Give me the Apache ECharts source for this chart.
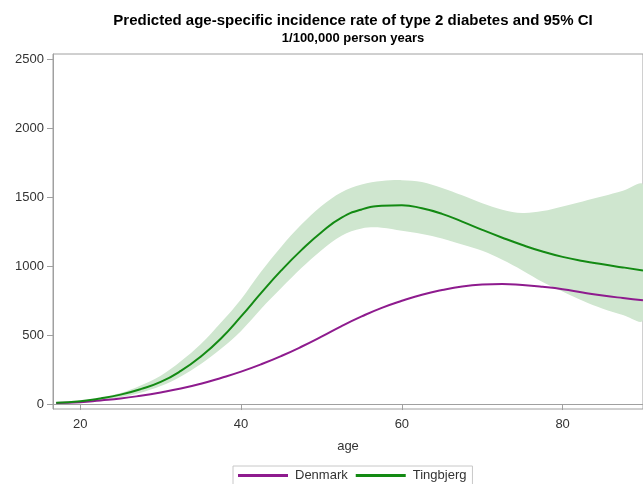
<!DOCTYPE html>
<html><head><meta charset="utf-8">
<script src="https://cdn.jsdelivr.net/npm/echarts@6/dist/echarts.min.js"></script>
<style>html,body{margin:0;padding:0;background:#fff}#c{width:643px;height:484px}</style>
</head><body><div id="c"></div>
<script>
const ages       = [17, 20, 22.5, 25, 27.5, 30, 32.5, 35, 37.5, 40, 42.5, 45, 47.5, 50, 52.5, 55, 57.5, 60, 62.5, 65, 67.5, 70, 72.5, 75, 77.5, 80, 82.5, 85, 87.5, 90];
const tingbjerg  = [10, 20, 40, 68, 108, 160, 240, 345, 475, 635, 805, 968, 1115, 1245, 1350, 1410, 1436, 1440, 1418, 1378, 1322, 1262, 1205, 1152, 1105, 1066, 1036, 1012, 990, 968];
const ciUpper    = [12, 24, 48, 80, 135, 205, 310, 435, 590, 760, 960, 1140, 1300, 1435, 1535, 1590, 1615, 1622, 1608, 1565, 1512, 1455, 1408, 1384, 1398, 1432, 1468, 1505, 1545, 1585];
const ciLower    = [8, 15, 30, 50, 82, 130, 200, 290, 400, 530, 690, 840, 985, 1115, 1220, 1272, 1278, 1255, 1232, 1200, 1155, 1110, 1045, 968, 885, 815, 748, 690, 645, 610];
const denmark    = [8, 13, 26, 40, 60, 84, 112, 147, 189, 235, 288, 348, 415, 488, 565, 635, 697, 748, 792, 826, 852, 866, 870, 862, 849, 832, 808, 786, 768, 752];
const yTicks     = [0, 500, 1000, 1500, 2000, 2500];
const xTicks     = [20, 40, 60, 80];

const pair = arr => ages.map((a, i) => [a, arr[i]]);
const FONT = 'Liberation Sans, Arial, sans-serif';
const AXIS = '#a0a0a0';

const chart = echarts.init(document.getElementById('c'), null, {renderer: 'canvas'});
chart.setOption({
  animation: false,
  backgroundColor: '#fff',
  title: [
    {text: 'Predicted age-specific incidence rate of type 2 diabetes and 95% CI', left: 353, top: 13, padding: 0, textAlign: 'center',
     textStyle: {fontFamily: FONT, fontSize: 15, fontWeight: 'bold', color: '#000'}},
    {text: '1/100,000 person years', left: 353, top: 32, padding: 0, textAlign: 'center',
     textStyle: {fontFamily: FONT, fontSize: 13, fontWeight: 'bold', color: '#000'}}
  ],
  legend: {
    data: ['Denmark', 'Tingbjerg'], left: 233, top: 466, orient: 'horizontal',
    borderColor: '#c8c8c8', borderWidth: 1, padding: [3, 6, 3, 5],
    icon: 'rect', itemWidth: 50, itemHeight: 3, itemGap: 8,
    textStyle: {fontFamily: FONT, fontSize: 13, color: '#333', padding: [0, 0, 0, 2]}
  },
  grid: {left: 53, top: 54, width: 600, height: 355, show: true, borderColor: AXIS, borderWidth: 1, containLabel: false},
  xAxis: {
    type: 'value', min: 16.6, max: 90,
    name: 'age', nameLocation: 'middle', nameGap: 31,
    nameTextStyle: {fontFamily: FONT, fontSize: 13, color: '#333'},
    axisLine: {show: true, lineStyle: {color: AXIS}},
    axisTick: {show: true, length: 6, lineStyle: {color: AXIS}, customValues: xTicks},
    axisLabel: {fontFamily: FONT, fontSize: 13, color: '#333', margin: 9, customValues: xTicks, formatter: v => String(v)},
    splitLine: {show: false}
  },
  yAxis: {
    type: 'value', min: -36, max: 2536,
    axisLine: {show: true, lineStyle: {color: AXIS}},
    axisTick: {show: true, length: 6, lineStyle: {color: AXIS}, customValues: yTicks},
    axisLabel: {fontFamily: FONT, fontSize: 13, color: '#333', margin: 9, customValues: yTicks, formatter: v => String(v)},
    splitLine: {show: false}
  },
  series: [
    {name: 'ci', type: 'custom', silent: true, z: 1, clip: true,
     data: ages.map((a, i) => [a, ciLower[i], ciUpper[i]]),
     encode: {x: 0, y: [1, 2]},
     renderItem: (params, api) => {
       if (params.dataIndex !== 0) return null;
       const top = ages.map((a, i) => api.coord([a, ciUpper[i]]));
       const bot = ages.map((a, i) => api.coord([a, ciLower[i]])).reverse();
       return {type: 'polygon', shape: {points: top.concat(bot), smooth: 0.35}, style: {fill: '#cfe6cf', stroke: null}};
     }},
    {name: 'Denmark', type: 'line', data: pair(denmark), smooth: true, symbol: 'none',
     lineStyle: {color: '#8e1b8e', width: 2}, itemStyle: {color: '#8e1b8e'}, z: 3},
    {name: 'Tingbjerg', type: 'line', data: pair(tingbjerg), smooth: true, symbol: 'none',
     lineStyle: {color: '#138a13', width: 2}, itemStyle: {color: '#138a13'}, z: 4}
  ]
});
</script>
</body></html>
